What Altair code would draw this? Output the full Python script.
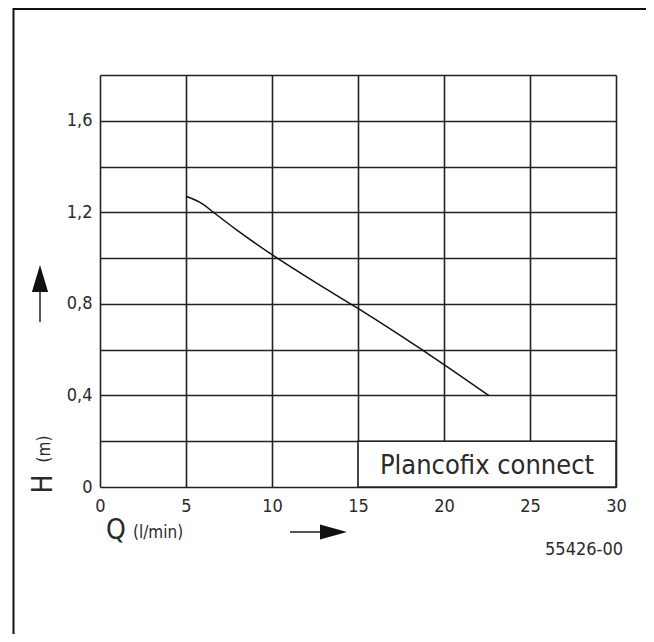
import altair as alt
import pandas as pd

# ---- data ----
q_values = [5.0, 6.0, 6.6, 8.0, 10.0, 12.5, 15.0, 17.5, 20.0, 22.6]
h_values = [1.27, 1.235, 1.2, 1.12, 1.015, 0.895, 0.78, 0.66, 0.535, 0.40]
x_ticks = [0, 5, 10, 15, 20, 25, 30]
y_ticks = [0, 0.2, 0.4, 0.6, 0.8, 1.0, 1.2, 1.4, 1.6, 1.8]
box_q = [15, 30]
box_h = [0, 0.2]
box_label = "Plancofix connect"
code_label = "55426-00"

FONT = "DejaVu Sans Condensed, Liberation Sans Narrow, DejaVu Sans, sans-serif"
INK = "#222222"
TXT = "#2a2a2a"

curve_df = pd.DataFrame({"Q": q_values, "H": h_values})
box_df = pd.DataFrame({"Q": [box_q[0]], "Q2": [box_q[1]], "H": [box_h[0]], "H2": [box_h[1]],
                       "Qc": [(box_q[0] + box_q[1]) / 2], "Hc": [(box_h[0] + box_h[1]) / 2],
                       "label": [box_label]})

x_scale = alt.Scale(domain=[0, 30], nice=False, zero=False)
y_scale = alt.Scale(domain=[0, 1.8], nice=False)

x_axis = alt.Axis(values=x_ticks, title=None, grid=True, gridColor=INK, gridWidth=1.6,
                  gridOpacity=1, ticks=False, domain=False, labelFontSize=18, labelPadding=10,
                  labelFlush=False, labelOverlap=False, labelFont=FONT, labelColor=TXT, format="d")
y_axis = alt.Axis(values=y_ticks, title=None, grid=True, gridColor=INK, gridWidth=1.6,
                  gridOpacity=1, ticks=False, domain=False, labelFontSize=18, labelPadding=8,
                  labelFlush=False, labelOverlap=False, labelFont=FONT, labelColor=TXT,
                  labelExpr="datum.value == 0 ? '0' : (round(datum.value*10) % 4 == 0 ? replace(format(datum.value, '.1f'), '.', ',') : '')")

X = alt.X("Q:Q", scale=x_scale, axis=x_axis)
Y = alt.Y("H:Q", scale=y_scale, axis=y_axis)

curve = alt.Chart(curve_df).mark_line(color="#111111", strokeWidth=1.5, interpolate="monotone").encode(x=X, y=Y)

box = alt.Chart(box_df).mark_rect(fill="white", stroke=INK, strokeWidth=1.6).encode(
    x=X, x2="Q2:Q", y=Y, y2="H2:Q")
box_text = alt.Chart(box_df).mark_text(font=FONT, fontSize=27, color=TXT, align="center",
                                       baseline="alphabetic", dy=10).encode(
    x=alt.X("Qc:Q", scale=x_scale), y=alt.Y("Hc:Q", scale=y_scale), text="label:N")

one = alt.Data(values=[{}])

def txt(s, x, y, size, align="center", baseline="alphabetic", angle=0):
    kw = dict(font=FONT, fontSize=size, color=TXT, align=align, baseline=baseline, text=s)
    if angle:
        kw["angle"] = angle
    return alt.Chart(one).mark_text(**kw).encode(x=alt.value(x), y=alt.value(y))

h_title = txt("H", -48, 409, 28, angle=270)
m_title = txt("(m)", -50, 374, 17, angle=270)
q_title = txt("Q", 16, 464, 28)
lmin_title = txt("(l/min)", 33, 463, 17, align="left")
code = txt(code_label, 523, 480, 18, align="right")

up_line = alt.Chart(one).mark_rule(color=INK, strokeWidth=1.5).encode(
    x=alt.value(-60), y=alt.value(247), y2=alt.value(212))
up_head = alt.Chart(one).mark_point(shape="M0,-1L-0.6,1L0.6,1Z", filled=True, color="#111111",
                                    opacity=1, size=729).encode(x=alt.value(-60), y=alt.value(203.5))
rt_line = alt.Chart(one).mark_rule(color=INK, strokeWidth=1.5).encode(
    x=alt.value(190), x2=alt.value(225), y=alt.value(457))
rt_head = alt.Chart(one).mark_point(shape="M1,0L-1,-0.55L-1,0.55Z", filled=True, color="#111111",
                                    opacity=1, size=729).encode(x=alt.value(233.5), y=alt.value(457))

frame_top = alt.Chart(one).mark_rule(color="#111111", strokeWidth=2).encode(
    x=alt.value(-86.5), x2=alt.value(560), y=alt.value(-66))
frame_left = alt.Chart(one).mark_rule(color="#111111", strokeWidth=2).encode(
    x=alt.value(-86.5), y=alt.value(-67), y2=alt.value(570))

chart = alt.layer(
    box, curve, box_text, h_title, m_title, q_title, lmin_title, code,
    up_line, up_head, rt_line, rt_head, frame_top, frame_left
).properties(
    width=516, height=412,
    autosize=alt.AutoSizeParams(type="none"),
    padding={"left": 92, "top": 67, "right": 30, "bottom": 147},
).configure_view(stroke=INK, strokeWidth=1.6).configure(background="white")

chart.save("out.html", embed_options={"renderer": "svg", "actions": False})
